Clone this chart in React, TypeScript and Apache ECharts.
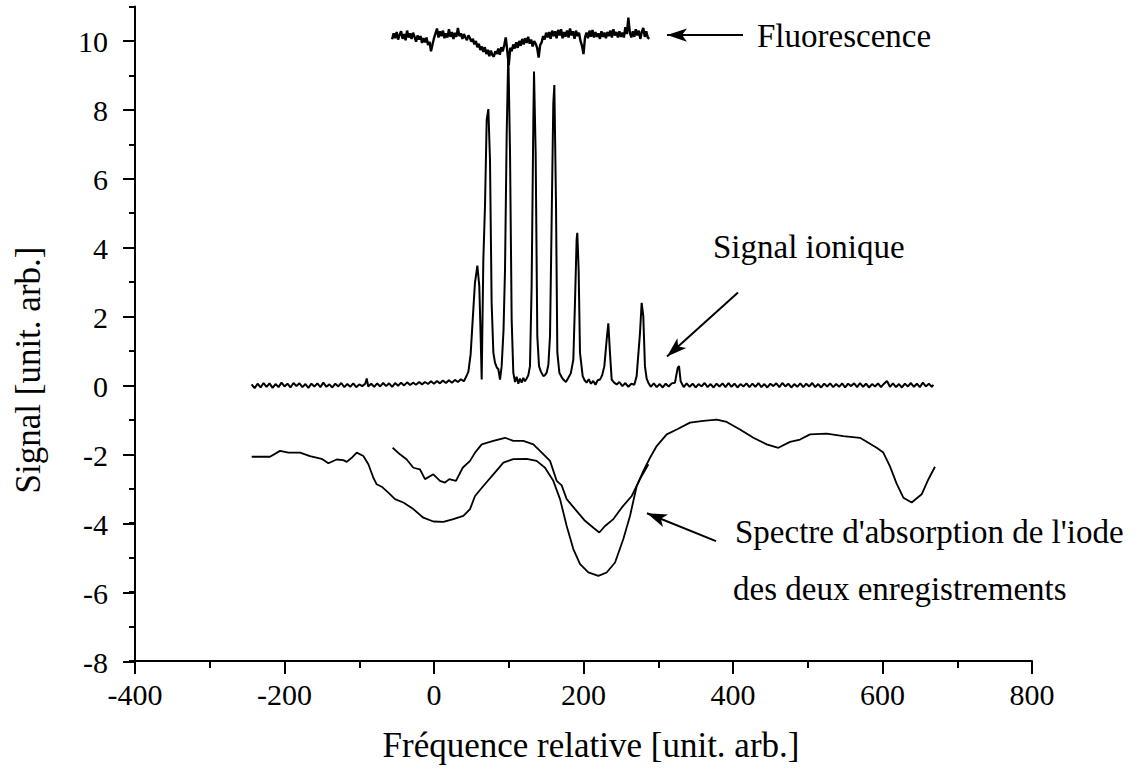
import React, { useEffect, useRef } from "react";
import * as echarts from "echarts";

// ---------------- data ----------------
const fluorescence: [number, number][] = [
  [-56, 10.05], [-54, 10.22], [-52, 10.08], [-50, 10.26], [-48, 10.04], [-46, 10.18], [-44, 10.28], [-42, 10.06],
  [-40, 10.2], [-38, 10.02], [-36, 10.3], [-34, 10.1], [-32, 10.22], [-30, 10.06], [-28, 10.24], [-26, 10.12],
  [-24, 9.98], [-22, 10.16], [-20, 10.04], [-18, 10.14], [-16, 9.94], [-14, 10.08], [-12, 9.96], [-10, 10.1],
  [-8, 9.88], [-6, 9.98], [-4, 9.7], [-2, 9.9], [0, 10.08], [2, 10.22], [4, 10.36], [6, 10.1],
  [8, 10.28], [10, 10.14], [12, 10.3], [14, 10.08], [16, 10.22], [18, 10.1], [20, 10.34], [22, 10.12],
  [24, 10.26], [26, 10.06], [28, 10.24], [30, 10.12], [32, 10.38], [34, 10.14], [36, 10.22], [38, 10.06],
  [40, 10.2], [42, 10.1], [44, 10.02], [46, 10.16], [48, 10.08], [50, 9.98], [52, 10.06], [54, 9.9],
  [56, 10.0], [58, 9.82], [60, 9.92], [62, 9.74], [64, 9.84], [66, 9.68], [68, 9.82], [70, 9.62],
  [72, 9.74], [74, 9.56], [76, 9.72], [78, 9.6], [80, 9.54], [82, 9.7], [84, 9.62], [86, 9.78],
  [88, 9.6], [90, 9.82], [92, 9.7], [94, 9.88], [96, 10.1], [98, 9.72], [100, 9.3], [102, 9.8],
  [104, 9.7], [106, 9.9], [108, 9.78], [110, 9.96], [112, 9.8], [114, 10.0], [116, 9.86], [118, 10.06],
  [120, 9.9], [122, 10.08], [124, 9.94], [126, 10.12], [128, 9.92], [130, 10.04], [132, 9.84], [134, 10.0],
  [136, 9.92], [138, 9.8], [140, 9.52], [142, 9.88], [144, 9.96], [146, 10.14], [148, 10.04], [150, 10.24],
  [152, 10.1], [154, 10.26], [156, 10.06], [158, 10.3], [160, 10.14], [162, 10.28], [164, 10.08], [166, 10.32],
  [168, 10.16], [170, 10.34], [172, 10.08], [174, 10.26], [176, 10.12], [178, 10.3], [180, 10.1], [182, 10.36],
  [184, 10.16], [186, 10.28], [188, 10.06], [190, 10.3], [192, 10.14], [194, 10.24], [196, 10.0], [198, 9.86],
  [200, 9.62], [202, 10.1], [204, 10.24], [206, 10.08], [208, 10.3], [210, 10.12], [212, 10.32], [214, 10.1],
  [216, 10.26], [218, 10.12], [220, 10.22], [222, 10.06], [224, 10.28], [226, 10.12], [228, 10.24], [230, 10.08],
  [232, 10.26], [234, 10.14], [236, 10.3], [238, 10.1], [240, 10.34], [242, 10.16], [244, 10.26], [246, 10.1],
  [248, 10.28], [250, 10.12], [252, 10.24], [254, 10.1], [256, 10.4], [258, 10.2], [260, 10.68], [262, 10.24],
  [264, 10.1], [266, 10.28], [268, 10.12], [270, 10.34], [272, 10.16], [274, 10.3], [276, 10.06], [278, 10.26],
  [280, 10.38], [282, 10.12], [284, 10.28], [286, 10.1], [288, 10.06],
];

const ionSignal: [number, number][] = [
  [-244, 0.03], [-240, -0.08], [-236, 0.05], [-232, -0.06], [-228, 0.07], [-224, -0.04], [-220, 0.06], [-216, -0.07],
  [-212, 0.04], [-208, -0.05], [-204, 0.08], [-200, -0.03], [-196, 0.05], [-192, -0.06], [-188, 0.07], [-184, -0.02],
  [-180, 0.06], [-176, -0.05], [-172, 0.04], [-168, -0.07], [-164, 0.05], [-160, -0.03], [-156, 0.06], [-152, -0.05],
  [-148, 0.08], [-144, -0.04], [-140, 0.03], [-136, -0.06], [-132, 0.05], [-128, -0.03], [-124, 0.07], [-120, -0.05],
  [-116, 0.04], [-112, -0.04], [-108, 0.06], [-104, -0.05], [-100, 0.03], [-96, -0.02], [-92, 0.05], [-90, 0.2],
  [-88, -0.03], [-84, 0.05], [-80, -0.04], [-76, 0.06], [-72, -0.03], [-68, 0.07], [-64, -0.02], [-60, 0.06],
  [-56, -0.04], [-52, 0.07], [-48, -0.01], [-44, 0.08], [-40, 0.0], [-36, 0.09], [-32, 0.01], [-28, 0.08],
  [-24, 0.02], [-20, 0.1], [-16, 0.03], [-12, 0.1], [-8, 0.04], [-4, 0.12], [0, 0.05], [4, 0.13],
  [8, 0.06], [12, 0.14], [16, 0.07], [20, 0.15], [24, 0.08], [28, 0.16], [32, 0.1], [36, 0.18],
  [40, 0.12], [44, 0.3], [46, 0.4], [49, 0.9], [52.6, 2.2], [54.8, 2.98], [58.0, 3.48], [60.6, 2.88],
  [62.4, 1.43], [63.8, 0.17], [66.0, 3.65], [68.2, 5.2], [70.5, 7.71], [72.7, 8.02], [74.9, 6.55], [77.1, 2.4],
  [79.4, 0.95], [81.6, 0.66], [84, 0.52], [86.1, 0.47], [88.3, 0.17], [90.5, 0.56], [93, 1.6], [95.0, 3.36],
  [97.2, 7.23], [99.4, 9.7], [101.7, 6.74], [103.9, 1.91], [106.1, 0.37], [108.4, 0.1], [110.5, 0.25], [112.8, 0.05],
  [115, 0.2], [117.3, 0.08], [119.5, 0.22], [121.7, 0.12], [124, 0.2], [126.2, 0.3], [128.4, 0.56], [130.6, 2.88],
  [132.9, 7.71], [133.8, 9.11], [136.0, 6.74], [138.2, 1.43], [140.5, 0.56], [143, 0.4], [146.3, 0.27], [148.5, 0.3],
  [150.7, 0.37], [153, 0.6], [155.2, 1.43], [157.4, 4.81], [159.6, 8.19], [161.0, 8.72], [163.2, 5.3], [165.0, 0.95],
  [167.7, 0.37], [170.5, 0.25], [173.0, 0.17], [176.5, 0.1], [179.7, 0.22], [183, 0.35], [186.4, 0.75], [188.6, 2.4],
  [190.8, 4.23], [191.7, 4.43], [193.5, 3.36], [195.3, 0.95], [198.9, 0.27], [201.5, 0.15], [204.2, 0.08], [207, 0.18],
  [210, 0.05], [213.1, 0.13], [216, 0.02], [219, 0.15], [222.1, 0.17], [225, 0.3], [227.9, 0.56], [231.0, 1.33],
  [233.2, 1.8], [235.4, 0.95], [237.7, 0.17], [241, 0.08], [244.4, 0.03], [248, 0.1], [252, -0.02], [256, 0.07],
  [260, -0.04], [264, 0.05], [268, 0.02], [271.1, 0.27], [275.6, 1.53], [277.8, 2.4], [280.0, 2.01], [282.2, 0.56],
  [284.5, 0.2], [286.7, 0.08], [290, -0.04], [294, 0.06], [298, -0.05], [302, 0.04], [306, -0.06], [310, 0.05],
  [314, -0.03], [318, 0.06], [322.4, 0.08], [326.0, 0.51], [327.8, 0.56], [330.0, 0.12], [334, -0.05], [338, 0.06],
  [342, -0.04], [346, 0.05], [350, -0.06], [354, 0.04], [358, -0.03], [362, 0.07], [366, -0.05], [370, 0.04],
  [374, -0.06], [378, 0.05], [382, -0.03], [386, 0.06], [390, -0.05], [394, 0.07], [398, -0.04], [402, 0.05],
  [406, -0.06], [410, 0.04], [414, -0.03], [418, 0.06], [422, -0.05], [426, 0.05], [430, -0.04], [434, 0.07],
  [438, -0.05], [442, 0.04], [446, -0.06], [450, 0.05], [454, -0.02], [458, 0.06], [462, -0.05], [466, 0.07],
  [470, -0.03], [474, 0.05], [478, -0.06], [482, 0.04], [486, -0.04], [490, 0.06], [494, -0.05], [498, 0.05],
  [502, -0.03], [506, 0.07], [510, -0.05], [514, 0.04], [518, -0.06], [522, 0.05], [526, -0.03], [530, 0.06],
  [534, -0.05], [538, 0.04], [542, -0.04], [546, 0.06], [550, -0.06], [554, 0.05], [558, -0.02], [562, 0.06],
  [566, -0.05], [570, 0.07], [574, -0.04], [578, 0.05], [582, -0.06], [586, 0.04], [590, -0.03], [594, 0.06],
  [598, -0.05], [602, 0.05], [606, 0.13], [610, -0.04], [614, 0.06], [618, -0.05], [622, 0.04], [626, -0.06],
  [630, 0.05], [634, -0.03], [638, 0.07], [642, -0.04], [646, 0.05], [650, -0.05], [654, 0.08], [658, -0.03],
  [662, 0.05], [666, -0.04], [668, 0.02],
];

const absorptionA: [number, number][] = [
  [-243.9, -2.07], [-219.4, -2.07], [-206, -1.9], [-194.8, -1.95], [-179.2, -1.95], [-165.9, -2.05], [-150.3, -2.13],
  [-141.3, -2.26], [-130.2, -2.15], [-121.3, -2.17], [-116.8, -2.22], [-110.1, -2.1], [-103.4, -1.95], [-94.5, -2.05],
  [-87.8, -2.29], [-81.1, -2.68], [-76.7, -2.87], [-70.0, -2.94], [-61.1, -3.11], [-52.2, -3.3], [-41.0, -3.4],
  [-27.6, -3.59], [-14.3, -3.84], [-0.9, -3.95], [12.5, -3.96], [25.9, -3.88], [39.3, -3.79], [48.2, -3.59],
  [54.9, -3.21], [66.0, -2.92], [79.4, -2.58], [92.8, -2.24], [106.1, -2.14], [124.0, -2.13], [137.3, -2.19],
  [148.5, -2.39], [159.6, -2.77], [168.6, -3.3], [177.5, -4.08], [186.4, -4.75], [195.4, -5.19], [206.5, -5.43],
  [219.9, -5.53], [231.0, -5.43], [242.2, -5.14], [253.3, -4.46], [262.2, -3.79], [271.2, -2.92], [280.1, -2.48],
  [289.0, -2.1], [297.9, -1.76], [311.3, -1.42], [324.7, -1.28], [342.5, -1.08], [360.3, -1.03], [378.2, -0.99],
  [391.6, -1.06], [409.4, -1.28], [427.2, -1.52], [445.1, -1.71], [460.7, -1.81], [476.3, -1.64], [489.7, -1.57],
  [503.0, -1.42], [525.3, -1.4], [547.6, -1.47], [569.9, -1.52], [592.2, -1.81], [601.1, -1.95], [610.0, -2.35],
  [618.9, -2.85], [627.9, -3.26], [639.0, -3.4], [652.4, -3.16], [661.3, -2.73], [670.2, -2.36],
];

const absorptionB: [number, number][] = [
  [-55.3, -1.81], [-45.5, -2.0], [-36.5, -2.15], [-27.6, -2.39], [-18.7, -2.44], [-12.0, -2.72], [-0.9, -2.58],
  [8.0, -2.77], [14.7, -2.82], [20.5, -2.72], [29.4, -2.77], [38.4, -2.39], [48.2, -2.19], [54.9, -1.95],
  [63.8, -1.71], [79.4, -1.61], [95.0, -1.52], [106.1, -1.61], [119.5, -1.61], [132.9, -1.71], [141.8, -1.9],
  [155.2, -2.19], [164.1, -2.77], [170.8, -2.9], [177.5, -3.3], [188.7, -3.59], [202.0, -3.93], [213.2, -4.13],
  [221.2, -4.27], [228.8, -4.08], [240.0, -3.88], [251.1, -3.55], [264.5, -3.21], [275.6, -2.72], [286.8, -2.29],
];

// annotation arrows: [tail, head] in data coordinates
const arrowFluorescence: [number, number][] = [[413.4, 10.17], [311.7, 10.17]];
const arrowIon: [number, number][] = [[406.7, 2.7], [311.7, 0.84]];
const arrowAbsorption: [number, number][] = [[377.3, -4.52], [284.9, -3.71]];

const xTitle = "Fréquence relative [unit. arb.]";
const yTitle = "Signal [unit. arb.]";
const labelFluorescence = "Fluorescence";
const labelIon = "Signal ionique";
const labelAbsorption1 = "Spectre d'absorption de l'iode";
const labelAbsorption2 = "des deux enregistrements";

// ---------------- component ----------------
const FONT = '"Liberation Serif", "Times New Roman", "DejaVu Serif", serif';
const BLACK = "#000";

export default function App() {
  const ref = useRef<HTMLDivElement>(null);

  useEffect(() => {
    if (!ref.current) return;
    const chart = echarts.init(ref.current, undefined, { renderer: "svg" });

    const lineSeries = (name: string, data: [number, number][], width: number) => ({
      type: "line",
      name,
      data,
      xAxisIndex: 0,
      yAxisIndex: 0,
      symbol: "none",
      showSymbol: false,
      silent: true,
      lineStyle: { color: BLACK, width },
      emphasis: { disabled: true },
    });

    const arrow = (a: [number, number][]) => [{ coord: a[0] }, { coord: a[1] }];

    const annot = (text: string, x: number, y: number, size = 33) => ({
      type: "text",
      x,
      y,
      silent: true,
      style: {
        text,
        fill: BLACK,
        font: `${size}px ${FONT}`,
        align: "left",
        verticalAlign: "middle",
      },
    });

    chart.setOption({
      animation: false,
      backgroundColor: "#fff",
      grid: [
        { left: 135, right: 106, top: 6.5, bottom: 106 },
        { left: 135, right: 106, top: 41, bottom: 106 },
      ],
      xAxis: [
        {
          gridIndex: 0,
          type: "value",
          min: -400,
          max: 800,
          interval: 200,
          axisLine: { show: true, onZero: false, lineStyle: { color: BLACK, width: 2 } },
          axisTick: { show: true, inside: false, length: 13, lineStyle: { color: BLACK, width: 2 } },
          minorTick: { show: true, splitNumber: 2, length: 7, lineStyle: { color: BLACK, width: 2 } },
          axisLabel: { color: BLACK, fontFamily: FONT, fontSize: 30, margin: 18 },
          splitLine: { show: false },
          name: xTitle,
          nameLocation: "middle",
          nameGap: 67,
          nameTextStyle: { color: BLACK, fontFamily: FONT, fontSize: 35, padding: [0, 0, 0, 15] },
        },
        { gridIndex: 1, type: "value", min: -400, max: 800, show: false },
      ],
      yAxis: [
        {
          gridIndex: 0,
          type: "value",
          min: -8,
          max: 11,
          interval: 1,
          axisLine: { show: true, onZero: false, lineStyle: { color: BLACK, width: 2 } },
          axisTick: { show: true, inside: false, length: 6, lineStyle: { color: BLACK, width: 2 } },
          axisLabel: { show: false },
          splitLine: { show: false },
        },
        {
          gridIndex: 1,
          type: "value",
          min: -8,
          max: 10,
          interval: 2,
          axisLine: { show: false, onZero: false },
          axisTick: { show: true, inside: false, length: 12, lineStyle: { color: BLACK, width: 2 } },
          axisLabel: { color: BLACK, fontFamily: FONT, fontSize: 30, margin: 27 },
          splitLine: { show: false },
        },
      ],
      series: [
        lineSeries("Fluorescence", fluorescence, 2.4),
        {
          ...lineSeries("Signal ionique", ionSignal, 2),
          markLine: {
            silent: true,
            symbol: ["none", "arrow"],
            symbolSize: [10, 20],
            label: { show: false },
            emphasis: { disabled: true },
            lineStyle: { color: BLACK, width: 2, type: "solid" },
            data: [arrow(arrowFluorescence), arrow(arrowIon), arrow(arrowAbsorption)],
          },
        },
        lineSeries("Absorption 1", absorptionA, 1.8),
        lineSeries("Absorption 2", absorptionB, 1.8),
      ],
      graphic: [
        annot(labelFluorescence, 757, 36),
        annot(labelIon, 713, 247),
        annot(labelAbsorption1, 735, 532),
        annot(labelAbsorption2, 733, 589),
        {
          type: "text",
          x: 28,
          y: 370,
          rotation: Math.PI / 2,
          silent: true,
          style: {
            text: yTitle,
            fill: BLACK,
            font: `35px ${FONT}`,
            align: "center",
            verticalAlign: "middle",
          },
        },
      ],
    });

    return () => chart.dispose();
  }, []);

  return (
    <div
      ref={ref}
      style={{ position: "absolute", left: 0, top: 0, width: 1138, height: 768, background: "#fff" }}
    />
  );
}
